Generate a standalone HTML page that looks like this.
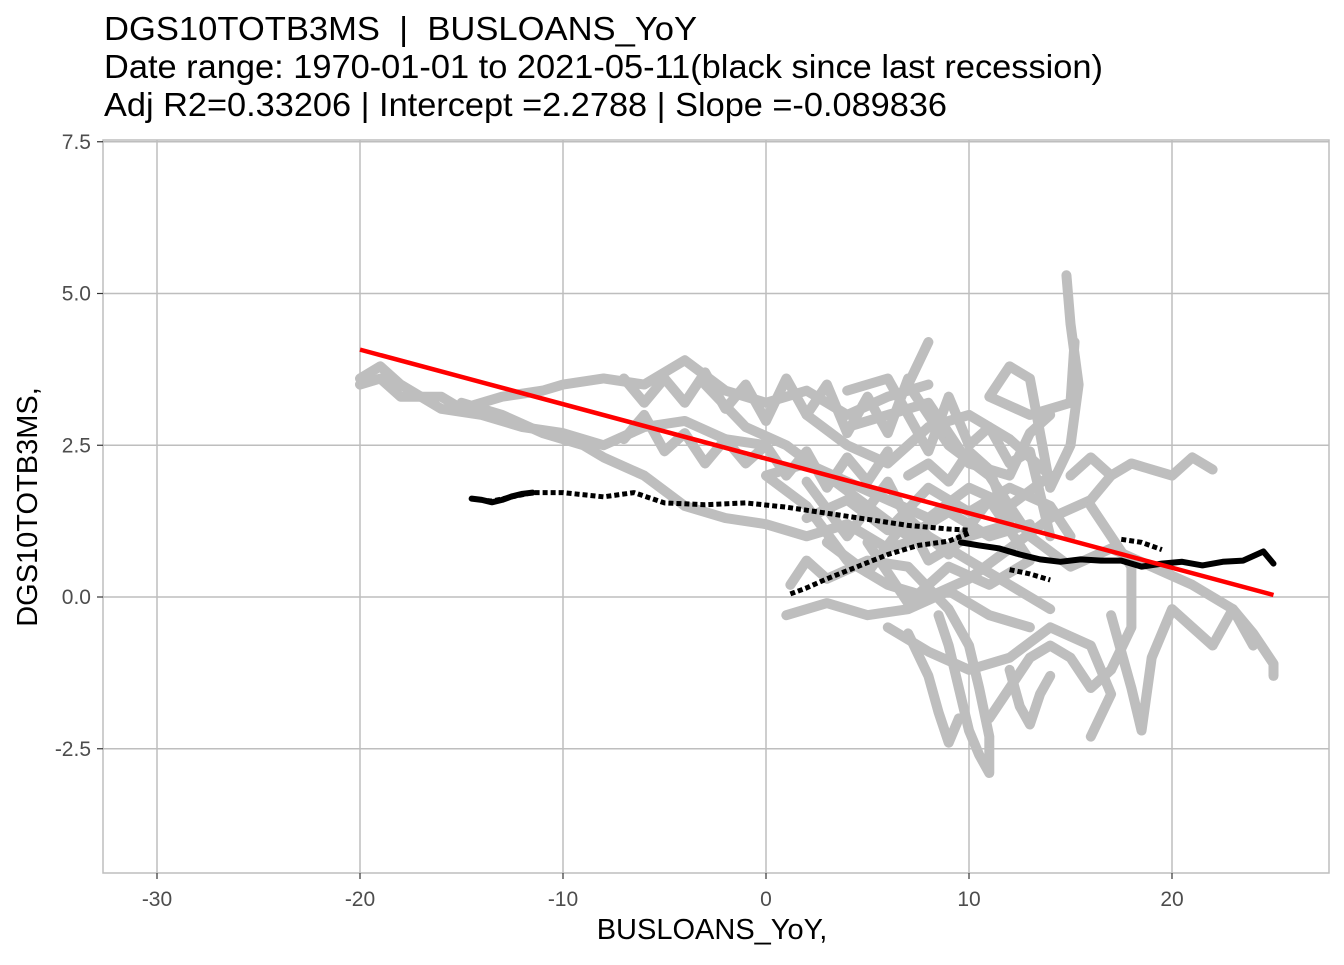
<!DOCTYPE html>
<html><head><meta charset="utf-8"><style>
body{margin:0;background:#fff;width:1344px;height:960px;overflow:hidden;font-family:"Liberation Sans",sans-serif}
text{white-space:pre}
</style></head><body>
<svg id="chart" width="1344" height="960">
<text x="104" y="40" font-size="33" fill="#000" xml:space="preserve" textLength="593" lengthAdjust="spacingAndGlyphs">DGS10TOTB3MS  |  BUSLOANS_YoY</text>
<text x="104" y="78" font-size="33" fill="#000" textLength="999" lengthAdjust="spacingAndGlyphs">Date range: 1970-01-01 to 2021-05-11(black since last recession)</text>
<text x="104" y="116" font-size="33" fill="#000" textLength="843" lengthAdjust="spacingAndGlyphs">Adj R2=0.33206 | Intercept =2.2788 | Slope =-0.089836</text>
<rect x="103" y="140" width="1226" height="733" fill="#fff"/>
<g id="grid"></g><g id="gray"></g><g id="black"></g><g id="reg"></g><g id="axes"></g>
<text x="712" y="939" font-size="29" text-anchor="middle">BUSLOANS_YoY,</text>
<text transform="translate(37,507) rotate(-90)" font-size="29" text-anchor="middle">DGS10TOTB3MS,</text>
</svg>
<script>
const xTicks=[-30,-20,-10,0,10,20];
const yTicks=[7.5,5.0,2.5,0.0,-2.5];
const yTickLabels=["7.5","5.0","2.5","0.0","-2.5"];
const intercept=2.2788, slope=-0.089836;
const regRange=[-20,25];
const grayTraces=[
[[-20,3.6],[-19,3.8],[-18,3.5],[-17,3.3],[-16,3.1],[-14,3.0],[-12,2.8],[-10,2.7],[-8,2.5],[-6,2.8],[-4,2.9],[-2,2.6],[0,2.5]],
[[-20,3.5],[-19,3.6],[-18,3.3],[-16,3.3],[-15,3.1],[-13,3.3],[-11,3.4],[-10,3.5],[-8,3.6],[-6,3.5],[-4,3.9],[-2,3.4],[0,3.2],[2,3.4],[4,3.0],[6,3.3],[8,3.5]],
[[-15,3.2],[-13,3.0],[-11,2.7],[-9,2.5],[-8,2.3],[-6,2.0],[-4,1.5],[-2,1.3],[0,1.2],[2,1.0],[4,1.2],[6,0.8],[8,1.0],[10,0.6],[12,0.2],[14,-0.2]],
[[-7,3.6],[-6,3.2],[-5,3.6],[-4,3.2],[-3,3.7],[-2,3.1],[-1,3.5],[0,2.9],[1,3.6],[2,3.0],[3,3.5],[4,2.7],[5,3.3],[6,2.7],[7,3.6]],
[[-7,2.6],[-6,3.0],[-5,2.4],[-4,2.7],[-3,2.2],[-2,2.6],[-1,2.2],[0,2.5],[1,2.0],[2,2.4],[3,1.8],[4,2.3],[5,1.9],[6,2.4]],
[[2,3.0],[4,2.5],[6,2.2],[8,2.8],[10,3.0],[12,2.6],[14,2.0],[12,1.5],[10,1.8],[8,1.3],[6,1.6],[4,1.9],[2,2.2],[0,2.0],[2,1.5],[4,0.6],[6,0.2],[8,0.0],[10,0.3],[12,0.8],[14,1.3],[16,1.6],[17,2.0]],
[[1.2,0.2],[2,0.6],[3,0.3],[5,0.6],[7,0.5],[9,-0.2],[10,-0.8],[10.5,-1.5],[11,-2.3],[11,-2.9],[10.5,-2.6],[10,-2.2],[9.5,-1.5],[9,-0.8],[8.5,-0.3]],
[[14.8,5.3],[15,4.5],[15.4,3.5],[15,2.5],[14,1.8],[13,3.6],[12,3.8],[11,3.3],[13,3.0],[15,3.2],[15.2,4.2]],
[[16,1.5],[17,1.0],[18,0.5],[18,-0.5],[17,-1.2],[16,-1.5],[15,-1.0],[14,-0.8],[13,-1.0],[12,-1.5],[11,-2.0]],
[[17,-0.3],[18,-1.5],[18.5,-2.2],[19,-1.0],[20,-0.2],[21,-0.5],[22,-0.8],[23,-0.2],[24,-0.6],[25,-1.1],[25,-1.3]],
[[15,2.0],[16,2.3],[17,2.0],[18,2.2],[19,2.1],[20,2.0],[21,2.3],[22,2.1]],
[[8,4.2],[7,3.5],[9,2.5],[11,2.0],[13,1.0],[15,0.5],[17,0.8],[19,0.5],[21,0.2],[23,-0.2],[24,-0.8]],
[[-3,3.5],[-1,2.8],[1,2.5],[3,2.0],[5,1.5],[7,1.0],[9,1.4],[11,1.0],[13,1.2]],
[[6,-0.5],[8,-0.9],[10,-1.2],[12,-1.0],[14,-0.5],[16,-0.8],[17,-1.6],[16,-2.3]],
[[1,-0.3],[3,-0.1],[5,-0.3],[7,-0.2],[9,0.1],[11,-0.3],[13,-0.5]],
[[4,2.8],[6,3.0],[8,3.2],[10,2.2],[12,2.0],[13,2.7],[14,3.0]],
[[2,1.3],[4,1.6],[6,1.1],[8,1.8],[10,1.4],[12,1.8],[14,1.5],[15,1.0]],
[[3,0.9],[5,0.4],[7,1.3],[9,0.7],[11,1.6],[13,0.6],[11,0.2],[9,0.5],[7,-0.1],[5,0.9]],
[[4,3.4],[6,3.6],[8,2.4],[9,3.3],[10,2.5],[11,2.8],[12,2.2],[13,2.4],[14,1.0]],
[[7,2.0],[8,2.2],[9,1.9],[10,2.4],[11,2.1],[12,1.2],[10,1.0],[8,0.6],[6,1.9],[4,1.0],[2,1.9]],
[[7,-0.6],[8,-1.3],[8.5,-1.9],[9,-2.4],[9.5,-2.0]],
[[12,-1.2],[12.5,-1.8],[13,-2.1],[13.5,-1.6],[14,-1.3]]
];
const blackTraces=[
[[-14.5,1.62],[-13.5,1.58],[-12.5,1.65],[-11.5,1.72],[-10,1.72],[-8,1.65],[-6.5,1.72],[-5,1.55],[-3,1.52],[-1,1.55],[1,1.48],[3,1.38],[5,1.28],[7,1.18],[9,1.12],[10,1.1]],
[[1.2,0.05],[2,0.15],[3,0.3],[4.5,0.5],[6,0.7],[7.5,0.85],[9,0.92],[10,1.05]],
[[17.5,0.95],[18.5,0.9],[19.5,0.78]],
[[12,0.45],[13,0.38],[14,0.28]]
];
const blackDense=[
[[-14.5,1.62],[-14,1.6],[-13.5,1.56],[-13,1.6],[-12.5,1.66],[-12,1.7],[-11.5,1.72]],
[[9.6,0.9],[10.5,0.85],[11.5,0.8],[12.5,0.7],[13.5,0.62],[14.5,0.58],[15.5,0.62],[16.5,0.6],[17.5,0.6],[18.5,0.5],[19.5,0.55],[20.5,0.58],[21.5,0.52],[22.5,0.58],[23.5,0.6],[24.5,0.75],[25,0.55]]
];
const X=v=>766+v*20.3, Y=v=>597-v*60.7;
const ns="http://www.w3.org/2000/svg";
function mk(t,a,p){const e=document.createElementNS(ns,t);for(const k in a)e.setAttribute(k,a[k]);p.appendChild(e);return e;}
const grid=document.getElementById('grid'),axes=document.getElementById('axes');
xTicks.forEach(v=>{
 const l=mk('line',{x1:X(v),x2:X(v),y1:140,y2:873,stroke:'#bebebe','stroke-width':1.5},grid);
 
 
 mk('line',{x1:X(v),x2:X(v),y1:873,y2:879,stroke:'#333','stroke-width':1.2},axes);
 const t=mk('text',{x:X(v),y:906,'font-size':21,'text-anchor':'middle',fill:'#4d4d4d'},axes);
 t.textContent=v;
 
 
});
yTicks.forEach((v,i)=>{
 const l=mk('line',{x1:103,x2:1329,y1:Y(v),y2:Y(v),stroke:'#bebebe','stroke-width':1.5},grid);
 
 
 mk('line',{x1:97,x2:103,y1:Y(v),y2:Y(v),stroke:'#333','stroke-width':1.2},axes);
 const t=mk('text',{x:91,y:Y(v)+7,'font-size':21,'text-anchor':'end',fill:'#4d4d4d'},axes);
 t.textContent=yTickLabels[i];
 
 
});
mk('rect',{x:103,y:140,width:1226,height:733,fill:'none',stroke:'#bebebe','stroke-width':1.5},grid);
const g=document.getElementById('gray');
grayTraces.forEach(tr=>{
 const p=mk('polyline',{points:tr.map(d=>X(d[0])+','+Y(d[1])).join(' '),fill:'none',stroke:'#bebebe','stroke-width':10,'stroke-linejoin':'round','stroke-linecap':'round'},g);
 
 
});
const b=document.getElementById('black');
blackTraces.forEach(tr=>{
 const p=mk('polyline',{points:tr.map(d=>X(d[0])+','+Y(d[1])).join(' '),fill:'none',stroke:'#000','stroke-width':5,'stroke-dasharray':'5 3','stroke-linejoin':'round'},b);
 
 
});
blackDense.forEach(tr=>{
 const p=mk('polyline',{points:tr.map(d=>X(d[0])+','+Y(d[1])).join(' '),fill:'none',stroke:'#000','stroke-width':6,'stroke-linejoin':'round','stroke-linecap':'round'},b);
 
 
});
const r=mk('line',{x1:X(regRange[0]),y1:Y(intercept+slope*regRange[0]),x2:X(regRange[1]),y2:Y(intercept+slope*regRange[1]),stroke:'#ff0000','stroke-width':4.5},document.getElementById('reg'));


</script>
</body></html>
